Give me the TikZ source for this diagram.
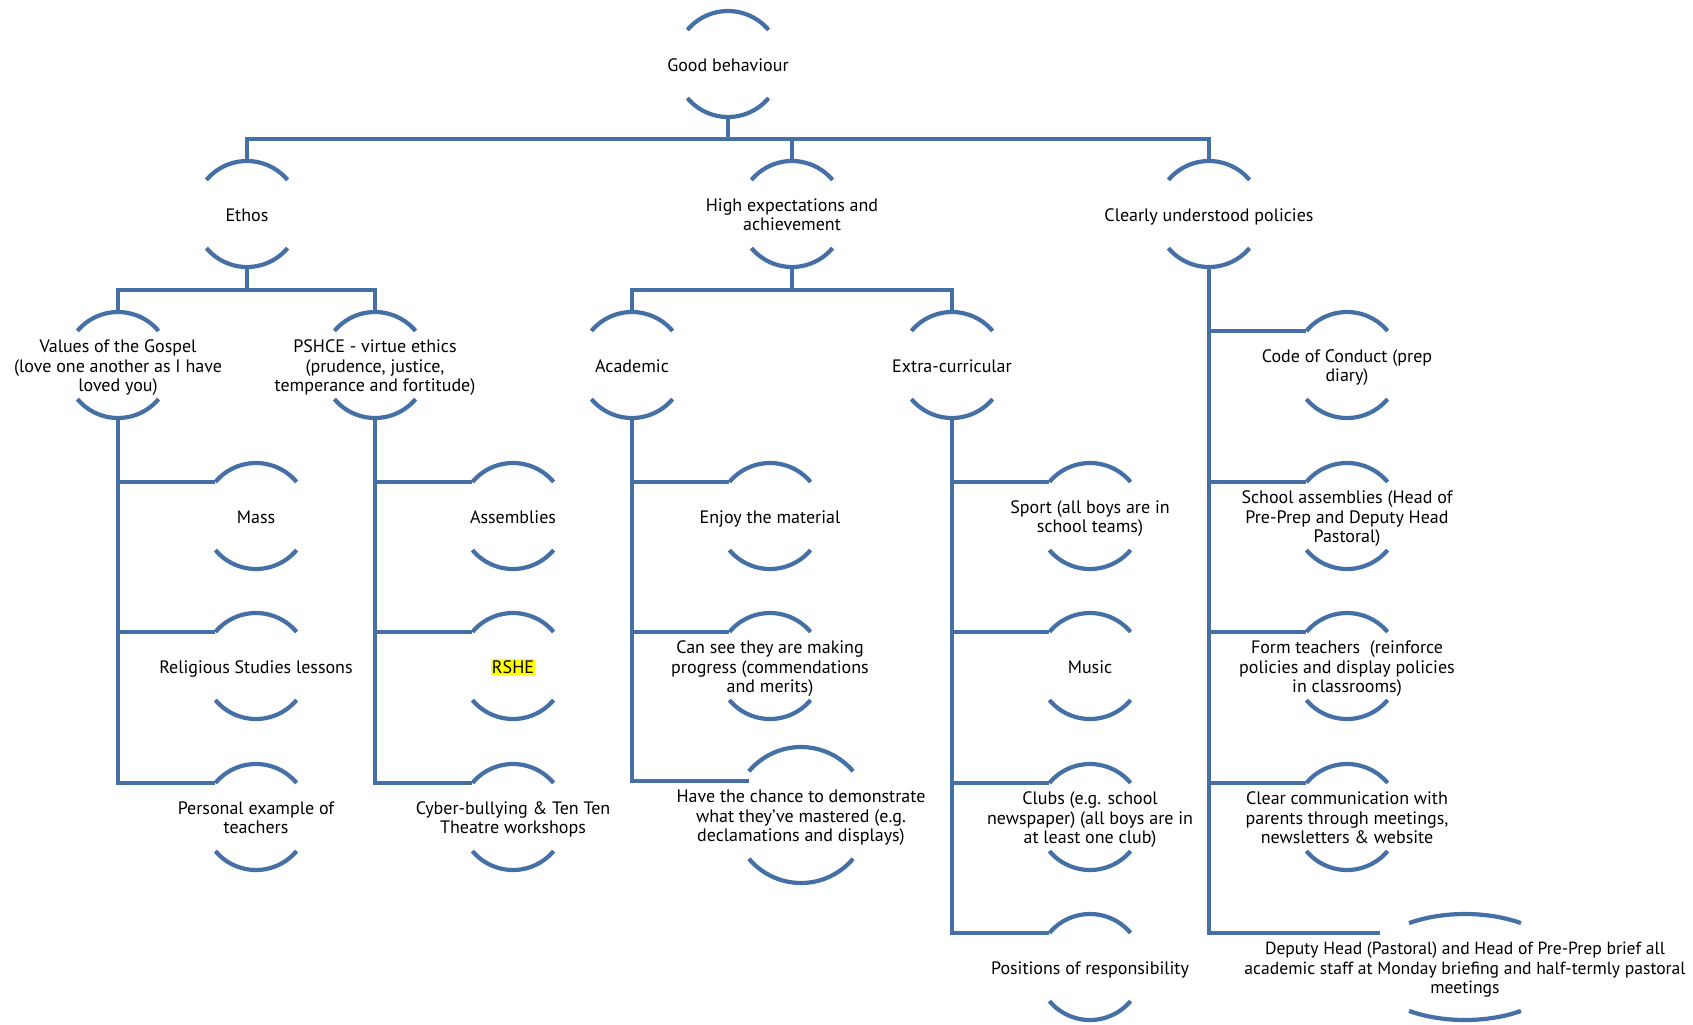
\documentclass[tikz,border=0pt]{standalone}
\usepackage{fontspec}
\setmainfont{PT Sans}
\usetikzlibrary{calc}
\definecolor{TreeBlue}{HTML}{4470A5}
\definecolor{MarkYellow}{HTML}{FFFF00}
\newcommand{\treelink}[2]{\draw[link] (#1-b) |- ($(#1-b)!0.5!(#2-t)$) -| (#2-t);}

\begin{document}
\begin{tikzpicture}[x=0.5pt,y=0.5pt,
    every node/.style={font=\fontsize{9}{9.7}\selectfont,align=center,inner sep=0pt,
      text height=10pt,text depth=2.9pt},
    twoline/.style={text height=19.7pt},
    threeline/.style={text height=29.4pt},
    link/.style={TreeBlue,line width=2pt},
    rim/.style={TreeBlue,line width=2.1pt}]
  \useasboundingbox (0,0) rectangle (1693,-1024);
  % top of the tree
  \node (good) at (728,-64) {Good behaviour};
  \node (ethos) at (247,-214) {Ethos};
  \node[twoline] (high) at (792,-214) {High expectations and\\achievement};
  \node (clear) at (1209,-214) {Clearly understood policies};
  % second row
  \node[threeline] (values) at (118,-365) {Values of the Gospel\\(love one another as I have\\loved you)};
  \node[threeline] (pshce) at (375,-365) {PSHCE - virtue ethics\\(prudence, justice,\\temperance and fortitude)};
  \node (academic) at (632,-365) {Academic};
  \node (extra) at (952,-365) {Extra-curricular};
  \node[twoline] (code) at (1347,-365) {Code of Conduct (prep\\diary)};
  % ethos
  \node (mass) at (256,-516) {Mass};
  \node (relig) at (256,-666) {Religious Studies lessons};
  \node[twoline] (personal) at (256,-817) {Personal example of\\teachers};
  \node (assemb) at (513,-516) {Assemblies};
  \node (rshe) at (513,-666) {\setlength{\fboxsep}{0.6pt}\colorbox{MarkYellow}{RSHE}};
  \node[twoline] (cyber) at (513,-817) {Cyber-bullying \& Ten Ten\\Theatre workshops};
  % expectations
  \node (enjoy) at (770,-516) {Enjoy the material};
  \node[threeline] (progress) at (770,-666) {Can see they are making\\progress (commendations\\and merits)};
  \node[threeline] (have) at (801,-815) {Have the chance to demonstrate\\what they've mastered (e.g.\\declamations and displays)};
  \node[twoline] (sport) at (1090,-516) {Sport (all boys are in\\school teams)};
  \node (music) at (1090,-666) {Music};
  \node[threeline] (clubs) at (1090,-817) {Clubs (e.g. school\\newspaper) (all boys are in\\at least one club)};
  \node (resp) at (1090,-967) {Positions of responsibility};
  % policies
  \node[threeline] (school) at (1347,-516) {School assemblies (Head of\\Pre-Prep and Deputy Head\\Pastoral)};
  \node[threeline] (form) at (1347,-666) {Form teachers~ (reinforce\\policies and display policies\\in classrooms)};
  \node[threeline] (comm) at (1347,-817) {Clear communication with\\parents through meetings,\\newsletters \& website};
  \node[threeline,font=\fontsize{8.8}{9.7}\selectfont] (deputy) at (1465,-967) {Deputy Head (Pastoral) and Head of Pre-Prep brief all\\academic staff at Monday briefing and half-termly pastoral\\meetings};

  \foreach \n/\r in {good/53,ethos/53,high/53,clear/53,values/53,pshce/53,academic/53,extra/53,code/53,
      mass/53,relig/53,personal/53,assemb/53,rshe/53,cyber/53,enjoy/53,progress/53,have/68,
      sport/53,music/53,clubs/53,resp/53,school/53,form/53,comm/53}{
    \coordinate (\n-t) at ($(\n.center)+(0,\r)$);
    \coordinate (\n-b) at ($(\n.center)+(0,-\r)$);
    \coordinate (\n-in) at ($(\n.center)+(-0.766*\r,34)$);
    \draw[rim] (\n.center) ++(140:\r) arc[start angle=140,end angle=40,radius=\r]
      (\n.center) ++(220:\r) arc[start angle=220,end angle=320,radius=\r];
  }
  % the wide one
  \coordinate (deputy-in) at ($(deputy.center)+(-85,34)$);
  \draw[rim] (deputy.center) ++(124:100 and 53) arc[start angle=124,end angle=56,x radius=100,y radius=53]
    (deputy.center) ++(236:100 and 53) arc[start angle=236,end angle=304,x radius=100,y radius=53];

  \treelink{good}{ethos}
  \treelink{good}{high}
  \treelink{good}{clear}
  \treelink{ethos}{values}
  \treelink{ethos}{pshce}
  \treelink{high}{academic}
  \treelink{high}{extra}
  \foreach \p/\c in {values/mass,values/relig,values/personal,pshce/assemb,pshce/rshe,pshce/cyber,
      academic/enjoy,academic/progress,academic/have,extra/sport,extra/music,extra/clubs,extra/resp,
      clear/code,clear/school,clear/form,clear/comm,clear/deputy}
    \draw[link] (\p-b) |- (\c-in);
\end{tikzpicture}
\end{document}
